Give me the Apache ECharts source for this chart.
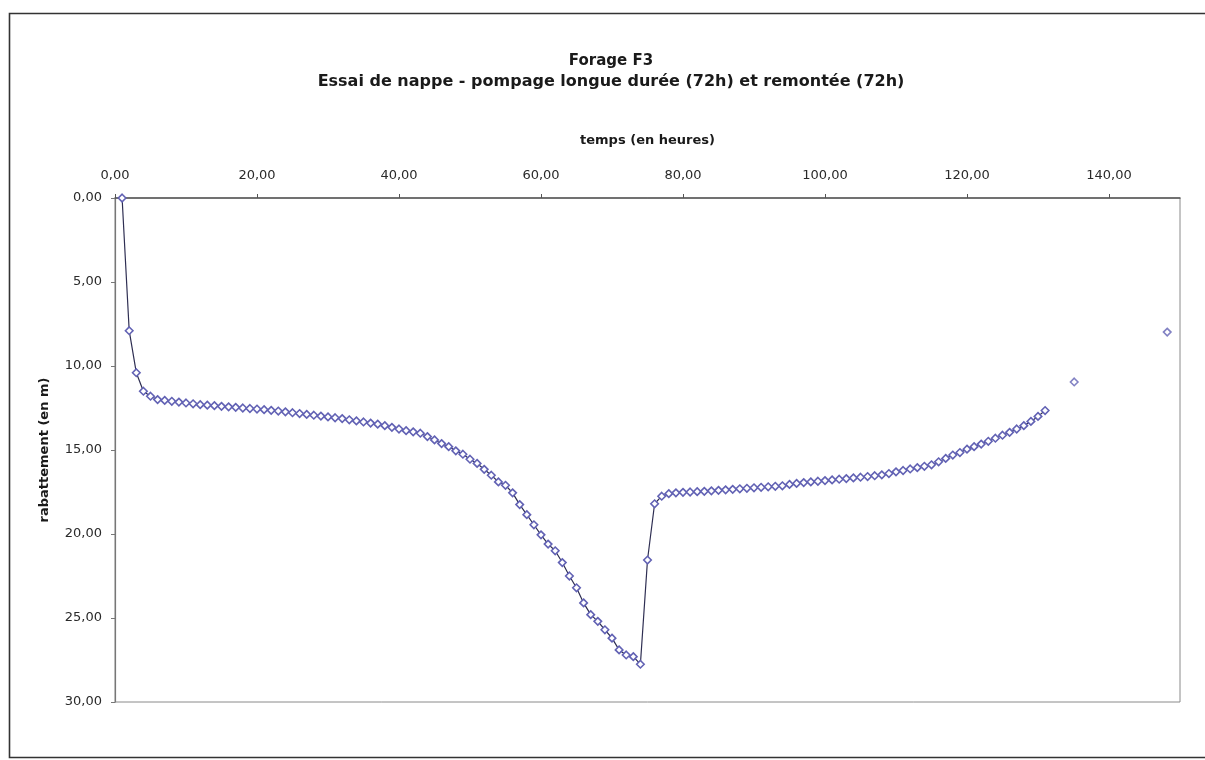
<!DOCTYPE html>
<html>
<head>
<meta charset="utf-8">
<script src="https://cdn.jsdelivr.net/npm/echarts@6/dist/echarts.min.js"></script>
<style>
html,body{margin:0;padding:0;background:#fff;}
#chart{width:1205px;height:760px;}
</style>
</head>
<body>
<div id="chart"></div>
<script>
// Data (time in hours, drawdown in m)
const pumpingHours = [1,2,3,4,5,6,7,8,9,10,11,12,13,14,15,16,17,18,19,20,21,22,23,24,25,26,27,28,29,30,31,32,33,34,35,36,37,38,39,40,41,42,43,44,45,46,47,48,49,50,51,52,53,54,55,56,57,58,59,60,61,62,63,64,65,66,67,68,69,70,71,72,73,74];
const pumpingDrawdown = [0,7.9,10.4,11.5,11.8,12.0,12.05,12.1,12.15,12.2,12.25,12.3,12.33,12.36,12.4,12.43,12.46,12.5,12.53,12.56,12.6,12.64,12.68,12.73,12.78,12.83,12.88,12.93,12.98,13.03,13.08,13.13,13.2,13.27,13.33,13.4,13.46,13.55,13.65,13.75,13.85,13.92,14.0,14.2,14.4,14.62,14.8,15.05,15.25,15.55,15.8,16.15,16.5,16.9,17.1,17.55,18.25,18.85,19.45,20.05,20.6,21.0,21.7,22.5,23.2,24.1,24.8,25.2,25.7,26.2,26.9,27.2,27.3,27.75];
const recoveryHours = [75,76,77,78,79,80,81,82,83,84,85,86,87,88,89,90,91,92,93,94,95,96,97,98,99,100,101,102,103,104,105,106,107,108,109,110,111,112,113,114,115,116,117,118,119,120,121,122,123,124,125,126,127,128,129,130,131];
const recoveryDrawdown = [21.55,18.2,17.75,17.6,17.55,17.52,17.5,17.48,17.46,17.43,17.4,17.37,17.34,17.31,17.28,17.25,17.22,17.19,17.16,17.13,17.05,16.99,16.94,16.9,16.86,16.82,16.78,16.74,16.7,16.66,16.62,16.58,16.53,16.48,16.4,16.3,16.22,16.13,16.05,15.97,15.88,15.7,15.5,15.3,15.15,14.95,14.8,14.65,14.48,14.3,14.12,13.95,13.75,13.55,13.3,13.0,12.65];
const lateHours = [135.1,148.2];
const lateDrawdown = [10.95,7.98];

const xTicks = [0,20,40,60,80,100,120,140];
const yTicks = [0,5,10,15,20,25,30];

const titleText = 'Forage F3';
const subtitleText = 'Essai de nappe - pompage longue durée (72h) et remontée (72h)';
const xName = 'temps (en heures)';
const yName = 'rabattement (en m)';

function fmt(v){ return v.toFixed(2).replace('.', ','); }

const lineData = [];
pumpingHours.forEach((h,i)=>lineData.push([h,pumpingDrawdown[i]]));
recoveryHours.forEach((h,i)=>lineData.push([h,recoveryDrawdown[i]]));
const lateData = lateHours.map((h,i)=>[h,lateDrawdown[i]]);

const chart = echarts.init(document.getElementById('chart'), null, {renderer:'canvas'});
const font = 'DejaVu Sans, Liberation Sans, Arial, sans-serif';
const markerStyle = {color:'#ffffff',borderColor:'#6262b4',borderWidth:1.6};
chart.setOption({
  backgroundColor:'#fff',
  animation:false,
  graphic:[{
    type:'rect', shape:{x:9.5,y:13.5,width:1210,height:744},
    style:{fill:'none',stroke:'#333',lineWidth:1.6}, silent:true
  },{
    type:'text', x:611, y:61, silent:true,
    style:{text:titleText, font:'bold 15px '+font, fill:'#1a1a1a', textAlign:'center', textVerticalAlign:'middle'}
  },{
    type:'text', x:611, y:82, silent:true,
    style:{text:subtitleText, font:'bold 16px '+font, fill:'#1a1a1a', textAlign:'center', textVerticalAlign:'middle'}
  }],
  grid:{left:115,right:25,top:198,bottom:58,show:true,borderColor:'#8a8a8a',borderWidth:1},
  xAxis:{
    type:'value', position:'top', min:0, max:150, interval:20,
    name:xName, nameLocation:'middle', nameGap:51,
    nameTextStyle:{fontFamily:font,fontSize:13,fontWeight:'bold',color:'#1a1a1a'},
    axisLine:{show:true,lineStyle:{color:'#555',width:1.5}},
    axisTick:{show:true,length:4,lineStyle:{color:'#555'}},
    axisLabel:{fontFamily:font,fontSize:13,color:'#2a2a2a',margin:16,showMaxLabel:false,
      formatter:(v)=> xTicks.includes(v)? fmt(v) : ''},
    splitLine:{show:false}
  },
  yAxis:{
    type:'value', inverse:true, min:0, max:30, interval:5,
    name:yName, nameLocation:'middle', nameGap:64, nameRotate:90,
    nameTextStyle:{fontFamily:font,fontSize:13,fontWeight:'bold',color:'#1a1a1a'},
    axisLine:{show:true,lineStyle:{color:'#777',width:1.2}},
    axisTick:{show:true,length:4,lineStyle:{color:'#777'}},
    axisLabel:{fontFamily:font,fontSize:13,color:'#2a2a2a',margin:13,
      formatter:(v)=> yTicks.includes(v)? fmt(v) : ''},
    splitLine:{show:false}
  },
  series:[{
    type:'line', data:lineData,
    symbol:'diamond', symbolSize:7.5, showAllSymbol:true,
    lineStyle:{color:'#2e2e52',width:1.2},
    itemStyle:markerStyle
  },{
    type:'scatter', data:lateData,
    symbol:'diamond', symbolSize:7.5,
    itemStyle:markerStyle
  }]
});
</script>
</body>
</html>
